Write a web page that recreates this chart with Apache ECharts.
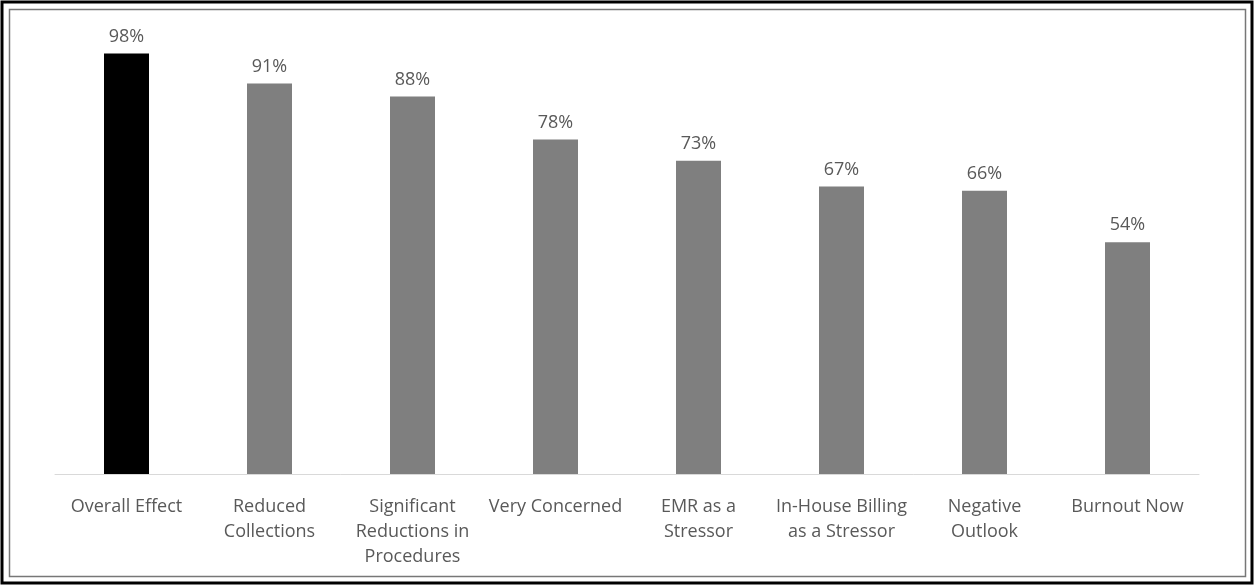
<!DOCTYPE html>
<html>
<head>
<meta charset="utf-8">
<script src="https://cdn.jsdelivr.net/npm/echarts@6/dist/echarts.min.js"></script>
<style>
html,body{margin:0;padding:0;background:#fff;}
#chart{width:1255px;height:586px;}
</style>
</head>
<body>
<div id="chart"></div>
<script>
const categories = ["Overall Effect", "Reduced\nCollections", "Significant\nReductions in\nProcedures", "Very Concerned", "EMR as a\nStressor", "In-House Billing\nas a Stressor", "Negative\nOutlook", "Burnout Now"];
const values = [98, 91, 88, 78, 73, 67, 66, 54];
const barColors = ["#000000", "#7f7f7f", "#7f7f7f", "#7f7f7f", "#7f7f7f", "#7f7f7f", "#7f7f7f", "#7f7f7f"];

const chart = echarts.init(document.getElementById('chart'));
chart.setOption({
  animation: false,
  backgroundColor: '#ffffff',
  grid: { left: 55, right: 56, top: 45, bottom: 112 },
  xAxis: {
    type: 'category',
    data: categories,
    axisLine: { show: true, lineStyle: { color: '#d9d9d9', width: 1 } },
    axisTick: { show: false },
    axisLabel: {
      interval: 0,
      margin: 20,
      fontFamily: 'Open Sans',
      fontSize: 18,
      lineHeight: 25,
      color: '#595959'
    }
  },
  yAxis: { type: 'value', min: 0, max: 100, show: false, splitLine: { show: false } },
  series: [{
    type: 'bar',
    barWidth: 45,
    data: values.map((v, i) => ({ value: v, itemStyle: { color: barColors[i] } })),
    label: {
      show: true,
      position: 'top',
      distance: 8,
      formatter: '{c}%',
      fontFamily: 'Open Sans',
      fontSize: 18,
      color: '#595959'
    }
  }],
  graphic: [
    { type: 'rect', shape: { x: 2, y: 2, width: 1250, height: 581 }, style: { fill: 'none', stroke: '#000', lineWidth: 3 } },
    { type: 'rect', shape: { x: 9.5, y: 9.5, width: 1236, height: 567 }, style: { fill: 'none', stroke: '#777', lineWidth: 1.5 } }
  ]
});
</script>
</body>
</html>
